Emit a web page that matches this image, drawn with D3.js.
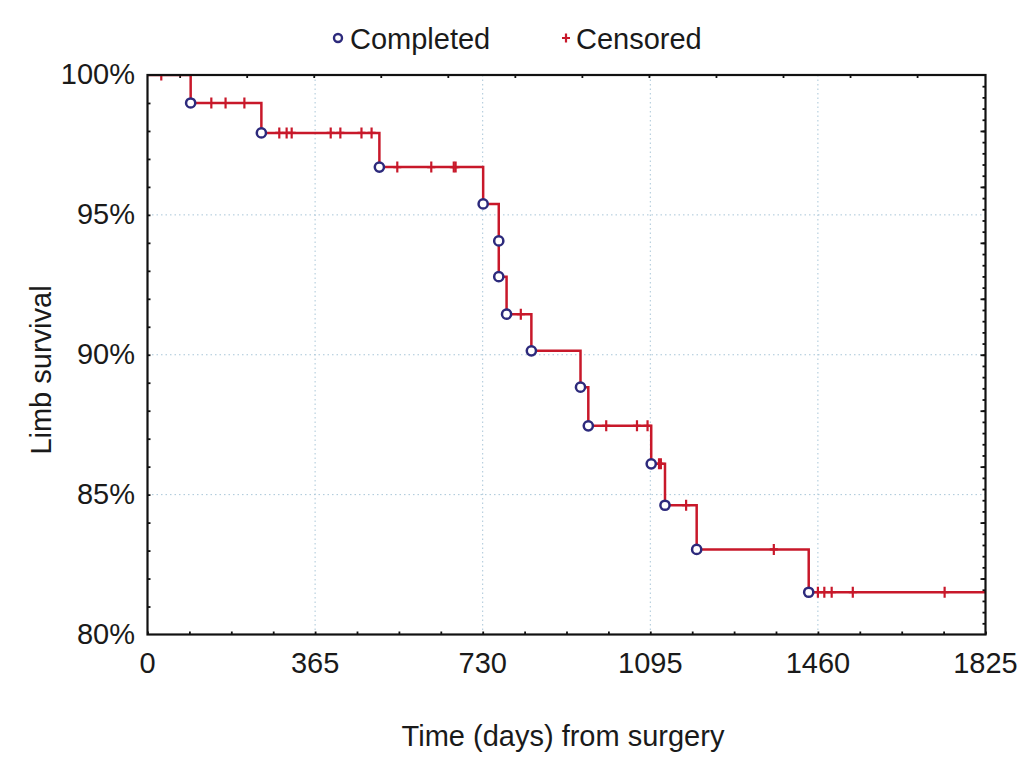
<!DOCTYPE html>
<html>
<head>
<meta charset="utf-8">
<script src="https://cdn.jsdelivr.net/npm/d3@7"></script>
<style>
  body { margin: 0; background: #fff; }
  text { font-family: "Liberation Sans", Arial, sans-serif; fill: #1a1a1a; }
</style>
</head>
<body>
<div id="chartArea"></div>
<script>
// completed events: day and survival (%) right after the event
var eventDays = [94, 248, 505, 731, 765, 765, 782, 836, 943, 960, 1097, 1127, 1196, 1440]
var eventSurv = [99.0, 97.93, 96.71, 95.39, 94.07, 92.79, 91.45, 90.14, 88.84, 87.46, 86.10, 84.62, 83.04, 81.51]

// censored observations (days)
var censorDays = [30, 139, 170, 211, 287, 303, 314, 399, 420, 466, 488, 544, 618, 667, 671,
  813, 999, 1066, 1089, 1114, 1118, 1173, 1364, 1460, 1474, 1490, 1536, 1736]

var xTicks = [0, 365, 730, 1095, 1460, 1825]
var yTicks = [80, 85, 90, 95, 100]
var xMinor = [0, 91.25, 182.5, 273.75, 365, 456.25, 547.5, 638.75, 730, 821.25, 912.5, 1003.75,
  1095, 1186.25, 1277.5, 1368.75, 1460, 1551.25, 1642.5, 1733.75, 1825]
var topMinor = [70, 216, 362, 508, 654, 800, 946, 1092, 1238, 1384, 1530, 1676]
var leftMinor = [81, 82, 83, 84, 85, 86, 87, 88, 89, 90, 91, 92, 93, 94, 95, 96, 97, 98, 99]
var rightMinor = [80.4, 80.8, 81.2, 81.6, 82, 82.4, 82.8, 83.2, 83.6, 84, 84.4, 84.8, 85.2, 85.6, 86,
  86.4, 86.8, 87.2, 87.6, 88, 88.4, 88.8, 89.2, 89.6, 90, 90.4, 90.8, 91.2, 91.6, 92, 92.4, 92.8,
  93.2, 93.6, 94, 94.4, 94.8, 95.2, 95.6, 96, 96.4, 96.8, 97.2, 97.6, 98, 98.4, 98.8, 99.2, 99.6]
var rightMajor = [82, 84, 86, 88, 90, 92, 94, 96, 98]

var width = 1030, height = 774
var red = "#c8182a", navy = "#2d2a7c"

var svg = d3.select('#chartArea').append('svg')
  .attr('width', width).attr('height', height)

var x = d3.scaleLinear().domain([0, 1825]).range([147.5, 985.5])
var y = d3.scaleLinear().domain([80, 100]).range([634.5, 75])

// grid
var grid = svg.append('g')
grid.selectAll('.gx').data(xTicks.slice(1, -1)).enter().append('line')
  .attr('x1', d => x(d)).attr('x2', d => x(d)).attr('y1', y(100)).attr('y2', y(80))
  .attr('stroke', '#a9c6d8').attr('stroke-width', 1).attr('stroke-dasharray', '1.5,3')
grid.selectAll('.gy').data(yTicks.slice(1, -1)).enter().append('line')
  .attr('y1', d => y(d)).attr('y2', d => y(d)).attr('x1', x(0)).attr('x2', x(1825))
  .attr('stroke', '#a9c6d8').attr('stroke-width', 1).attr('stroke-dasharray', '1.5,3')

// axes (ticks inward, drawn with d3 axes)
svg.append('g').attr('transform', `translate(0,${y(80)})`)
  .call(d3.axisTop(x).tickValues(xMinor).tickSize(3).tickFormat(''))
svg.append('g').attr('transform', `translate(0,${y(100)})`)
  .call(d3.axisBottom(x).tickValues(topMinor).tickSize(3).tickFormat(''))
svg.append('g').attr('transform', `translate(${x(0)},0)`)
  .call(d3.axisRight(y).tickValues(leftMinor).tickSize(3).tickFormat(''))
svg.append('g').attr('transform', `translate(${x(1825)},0)`)
  .call(d3.axisLeft(y).tickValues(rightMinor).tickSize(3).tickFormat(''))
svg.append('g').attr('transform', `translate(${x(1825)},0)`)
  .call(d3.axisLeft(y).tickValues(rightMajor).tickSize(5).tickFormat(''))
svg.selectAll('.domain').remove()
svg.selectAll('.tick line').attr('stroke', '#111').attr('stroke-width', 1.8)

// tick labels
svg.append('g').selectAll('text').data(xTicks).enter().append('text')
  .attr('x', d => x(d)).attr('y', 673).attr('text-anchor', 'middle')
  .attr('font-size', 29).text(d => d)
svg.append('g').selectAll('text').data(yTicks).enter().append('text')
  .attr('x', 135).attr('y', d => y(d) + 9).attr('text-anchor', 'end')
  .attr('font-size', 29).text(d => d + '%')

// step curve
var steps = [[0, 100]]
eventDays.forEach((d, i) => steps.push([d, eventSurv[i]]))
steps.push([1825, eventSurv[eventSurv.length - 1]])

function survAt(day) {
  var s = 100
  eventDays.forEach((d, i) => { if (d <= day) s = eventSurv[i] })
  return s
}

svg.append('clipPath').attr('id', 'plotClip').append('rect')
  .attr('x', x(0)).attr('y', y(100)).attr('width', x(1825) - x(0)).attr('height', y(80) - y(100))

var plot = svg.append('g').attr('clip-path', 'url(#plotClip)')

var line = d3.line().x(d => x(d[0])).y(d => y(d[1])).curve(d3.curveStepAfter)
plot.append('path').datum(steps).attr('d', line)
  .attr('fill', 'none').attr('stroke', red).attr('stroke-width', 2.5)

var crossPath = 'M-4,0H4M0,-5.5V5.5'
plot.selectAll('.cens').data(censorDays).enter().append('path')
  .attr('d', crossPath)
  .attr('transform', d => `translate(${x(d)},${y(survAt(d))})`)
  .attr('fill', 'none').attr('stroke', red).attr('stroke-width', 2.2)

plot.selectAll('.ev').data(eventDays).enter().append('circle')
  .attr('cx', d => x(d)).attr('cy', (d, i) => y(eventSurv[i])).attr('r', 4.6)
  .attr('fill', '#fff').attr('stroke', navy).attr('stroke-width', 2.5)

// frame
svg.append('rect').attr('x', x(0)).attr('y', y(100))
  .attr('width', x(1825) - x(0)).attr('height', y(80) - y(100))
  .attr('fill', 'none').attr('stroke', '#111').attr('stroke-width', 2.2)

// legend
svg.append('circle').attr('cx', 338).attr('cy', 38).attr('r', 4)
  .attr('fill', '#fff').attr('stroke', navy).attr('stroke-width', 2.4)
svg.append('text').attr('x', 350).attr('y', 49).attr('font-size', 29).text('Completed')
svg.append('path').attr('d', 'M-4,0H4M0,-4.5V4.5').attr('transform', 'translate(566,38)')
  .attr('stroke', red).attr('stroke-width', 2.2)
svg.append('text').attr('x', 576).attr('y', 49).attr('font-size', 29).text('Censored')

// axis titles
svg.append('text').attr('x', 563).attr('y', 746).attr('text-anchor', 'middle')
  .attr('font-size', 29).text('Time (days) from surgery')
svg.append('text').attr('transform', 'translate(51,370) rotate(-90)')
  .attr('text-anchor', 'middle').attr('font-size', 29).text('Limb survival')
</script>
</body>
</html>
